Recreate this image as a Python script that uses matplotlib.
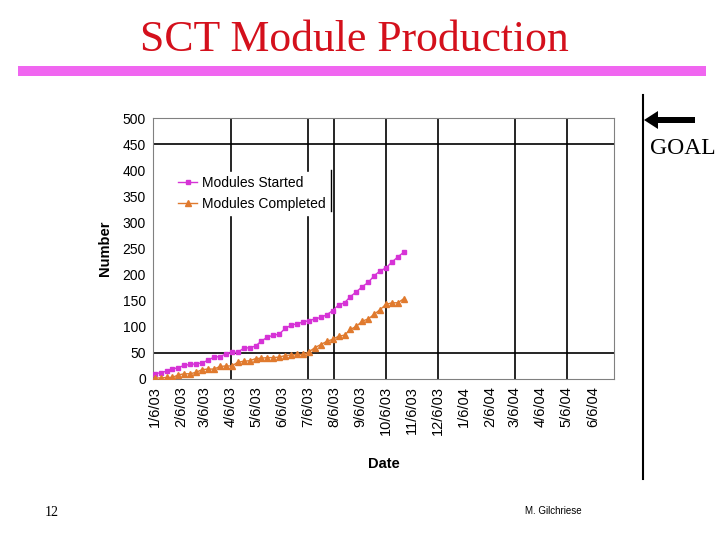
import datetime as dt
import matplotlib
matplotlib.use("Agg")
import matplotlib.pyplot as plt
from matplotlib.patches import Rectangle, FancyArrow
from matplotlib.lines import Line2D

# dados (semanal, a partir de 6/1/2003)
inicio = dt.date(2003, 1, 6)
iniciados = [10, 12, 15, 19, 22, 26, 28, 29, 31, 36, 42, 43, 48, 51, 51, 59, 60, 63,
             73, 80, 84, 86, 97, 103, 106, 109, 112, 115, 118, 123, 131, 142, 146,
             158, 167, 177, 185, 198, 207, 213, 224, 234, 243]
completados = [2, 2, 3, 3, 8, 10, 10, 13, 18, 19, 19, 24, 25, 25, 32, 34, 35, 39,
               40, 41, 41, 42, 45, 46, 47, 47, 52, 60, 66, 72, 76, 82, 84, 95, 101,
               111, 115, 124, 133, 143, 146, 146, 154]
datas = [inicio + dt.timedelta(days=7 * i) for i in range(len(iniciados))]

meses = [dt.date(2003 + (m // 12), m % 12 + 1, 6) for m in range(18)]
rotulos_x = ["1/6/03", "2/6/03", "3/6/03", "4/6/03", "5/6/03", "6/6/03", "7/6/03",
             "8/6/03", "9/6/03", "10/6/03", "11/6/03", "12/6/03", "1/6/04", "2/6/04",
             "3/6/04", "4/6/04", "5/6/04", "6/6/04"]
grade_x = [dt.date(2003, 4, 6), dt.date(2003, 7, 6), dt.date(2003, 8, 6),
           dt.date(2003, 10, 6), dt.date(2003, 12, 6), dt.date(2004, 3, 6),
           dt.date(2004, 5, 6)]
grade_y = [50, 450]

plt.rcParams["font.family"] = ["Liberation Sans", "DejaVu Sans"]

fig = plt.figure(figsize=(7.2, 5.4), dpi=100)
ax = fig.add_axes([153 / 720, 1 - 379 / 540, 461 / 720, 261 / 540])

for d in grade_x:
    ax.axvline(d, color="black", lw=1.2, zorder=1)
for v in grade_y:
    ax.axhline(v, color="black", lw=1.2, zorder=1)

ax.plot(datas, iniciados, color="#D633D6", marker="s", ms=3.4, lw=1,
        label="Modules Started", zorder=3)
ax.plot(datas, completados, color="#E07A2E", marker="^", ms=4.2, lw=1,
        label="Modules Completed", zorder=3)

ax.set_xlim(dt.date(2003, 1, 4), dt.date(2004, 7, 1))
ax.set_ylim(0, 500)
ax.set_xticks(meses)
ax.set_xticklabels(rotulos_x, rotation=90)
ax.set_yticks(range(0, 501, 50))
ax.tick_params(axis="both", which="major", length=0, pad=5)
ax.tick_params(axis="x", which="major", labelsize=10.5)
ax.tick_params(axis="y", which="major", labelsize=10)
ax.set_xticks(grade_x, minor=True)
ax.set_yticks(grade_y, minor=True)
ax.tick_params(axis="both", which="minor", length=6, width=1.2, color="black")

for s in ax.spines.values():
    s.set_color("#808080")

ax.set_xlabel("Date", fontsize=10.5, fontweight="bold", labelpad=16)
ax.set_ylabel("Number", fontsize=10.5, fontweight="bold", labelpad=8)

leg = ax.legend(loc="upper left", bbox_to_anchor=(0.03, 0.82), fontsize=10,
                frameon=True, fancybox=False, edgecolor="white",
                handlelength=1.4, handletextpad=0.3, borderpad=0.3,
                labelspacing=0.5)
leg.get_frame().set_alpha(1)
# borda direita da legenda, como no original
ax.add_artist(Line2D([0.387, 0.387], [0.645, 0.80], transform=ax.transAxes,
                     color="black", lw=1, zorder=6))

# título e enfeites do slide
fig.text(354 / 720, 1 - 40 / 540, "SCT Module Production", ha="center", va="center",
         fontsize=31.5, color="#D4101C", family="Liberation Serif")
fig.add_artist(Rectangle((18 / 720, 1 - 76 / 540), 688 / 720, 10 / 540,
                         transform=fig.transFigure, color="#F066F0", lw=0))
fig.add_artist(Line2D([643 / 720, 643 / 720], [1 - 95 / 540, 1 - 479 / 540],
                      transform=fig.transFigure, color="black", lw=1.5))
fig.add_artist(FancyArrow(695 / 720, 1 - 120 / 540, -51 / 720, 0,
                          width=6 / 540, head_width=18 / 540, head_length=14 / 720,
                          length_includes_head=True, transform=fig.transFigure,
                          color="black", lw=0))
fig.text(650 / 720, 1 - 149 / 540, "GOAL", ha="left", va="center", fontsize=17,
         family="Liberation Serif")
fig.text(52 / 720, 1 - 512 / 540, "12", ha="center", va="center", fontsize=10,
         family="Liberation Serif")
fig.text(553 / 720, 1 - 511 / 540, "M. Gilchriese", ha="center", va="center",
         fontsize=7)

fig.savefig("out.png", dpi=100)
